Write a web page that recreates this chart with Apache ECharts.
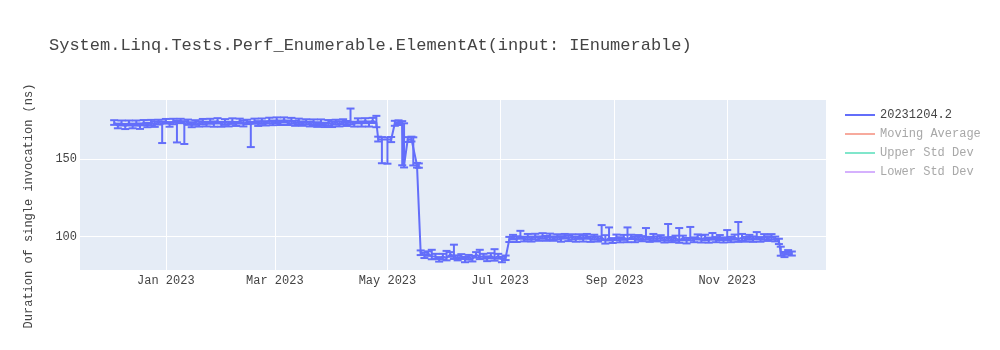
<!DOCTYPE html>
<html>
<head>
<meta charset="utf-8">
<script src="https://cdn.jsdelivr.net/npm/echarts@6/dist/echarts.min.js"></script>
<style>
html,body{margin:0;padding:0;background:#fff;}
#chart{width:1000px;height:350px;}
</style>
</head>
<body>
<div id="chart"></div>
<script>
const chartTitle = 'System.Linq.Tests.Perf_Enumerable.ElementAt(input: IEnumerable)';
const yTitle = 'Duration of single invocation (ns)';
const seriesNames = ['20231204.2', 'Moving Average', 'Upper Std Dev', 'Lower Std Dev'];

const dates = [
  '2022-12-04','2022-12-06','2022-12-08','2022-12-10','2022-12-12','2022-12-14','2022-12-16','2022-12-18','2022-12-20','2022-12-22','2022-12-24','2022-12-26','2022-12-28','2022-12-30',
  '2023-01-01','2023-01-03','2023-01-05','2023-01-07','2023-01-09','2023-01-11','2023-01-13','2023-01-15','2023-01-17','2023-01-19','2023-01-21','2023-01-23','2023-01-25','2023-01-27','2023-01-29','2023-01-31',
  '2023-02-02','2023-02-04','2023-02-06','2023-02-08','2023-02-10','2023-02-12','2023-02-14','2023-02-16','2023-02-18','2023-02-20','2023-02-22','2023-02-24','2023-02-26','2023-02-28',
  '2023-03-02','2023-03-04','2023-03-06','2023-03-08','2023-03-10','2023-03-12','2023-03-14','2023-03-16','2023-03-18','2023-03-20','2023-03-22','2023-03-24','2023-03-26','2023-03-28','2023-03-30',
  '2023-04-01','2023-04-03','2023-04-05','2023-04-07','2023-04-09','2023-04-11','2023-04-13','2023-04-15','2023-04-17','2023-04-19','2023-04-21','2023-04-23','2023-04-25',
  '2023-04-26','2023-04-28','2023-05-01','2023-05-03','2023-05-05','2023-05-07','2023-05-09','2023-05-10','2023-05-12','2023-05-14','2023-05-15','2023-05-17','2023-05-18',
  '2023-05-19','2023-05-21','2023-05-23','2023-05-25','2023-05-27','2023-05-29','2023-05-31',
  '2023-06-02','2023-06-04','2023-06-06','2023-06-08','2023-06-10','2023-06-12','2023-06-14','2023-06-16','2023-06-18','2023-06-20','2023-06-22','2023-06-24','2023-06-26','2023-06-28','2023-06-30',
  '2023-07-02','2023-07-04',
  '2023-07-06','2023-07-08','2023-07-10','2023-07-12','2023-07-14','2023-07-16','2023-07-18','2023-07-20','2023-07-22','2023-07-24','2023-07-26','2023-07-28','2023-07-30',
  '2023-08-01','2023-08-03','2023-08-05','2023-08-07','2023-08-09','2023-08-11','2023-08-13','2023-08-15','2023-08-17','2023-08-19','2023-08-21','2023-08-23','2023-08-25','2023-08-27','2023-08-29','2023-08-31',
  '2023-09-02','2023-09-04','2023-09-06','2023-09-08','2023-09-10','2023-09-12','2023-09-14','2023-09-16','2023-09-18','2023-09-20','2023-09-22','2023-09-24','2023-09-26','2023-09-28','2023-09-30',
  '2023-10-02','2023-10-04','2023-10-06','2023-10-08','2023-10-10','2023-10-12','2023-10-14','2023-10-16','2023-10-18','2023-10-20','2023-10-22','2023-10-24','2023-10-26','2023-10-28','2023-10-30',
  '2023-11-01','2023-11-03','2023-11-05','2023-11-07','2023-11-09','2023-11-11','2023-11-13','2023-11-15','2023-11-17','2023-11-19','2023-11-21','2023-11-23','2023-11-25','2023-11-27','2023-11-29',
  '2023-11-30','2023-12-02','2023-12-04','2023-12-06'
];

const values = [
  173.4,171.5,172.9,171.2,173.1,171.6,172.8,171.4,173.3,172.0,173.6,172.1,173.9,172.4,
  174.3,172.6,174.0,172.9,174.5,172.5,173.9,172.0,173.7,172.3,174.2,172.6,174.1,172.7,174.4,172.5,
  174.0,172.5,174.3,172.6,174.4,172.8,173.9,172.3,174.2,172.9,174.5,173.0,174.7,173.3,
  175.0,173.4,175.2,173.3,174.6,173.0,174.3,172.8,174.0,172.5,173.7,172.2,173.6,172.0,173.5,
  172.2,173.9,172.4,174.1,172.8,174.2,172.5,174.4,172.8,174.6,172.7,174.8,173.5,
  162.8,162.6,162.5,162.4,173.0,173.4,173.0,146.0,162.6,162.8,162.6,146.0,145.8,
  89.6,88.0,89.2,87.4,87.3,85.4,87.2,
  86.5,88.6,87.6,86.2,87.4,85.4,86.8,85.8,88.5,87.2,87.3,86.0,87.6,86.4,87.5,
  85.4,86.5,
  98.3,99.8,98.5,100.3,98.4,99.9,98.6,100.2,98.9,100.5,99.0,100.1,98.8,
  100.0,98.6,100.3,98.9,100.2,98.4,100.1,98.8,100.3,98.5,99.9,98.4,99.5,97.6,99.2,97.5,
  99.6,98.2,99.5,98.2,99.9,98.4,99.6,98.6,100.0,98.3,99.6,98.5,99.5,97.9,99.3,
  98.0,99.2,97.7,99.1,97.6,99.3,98.2,99.7,98.1,99.4,98.0,99.6,98.2,99.4,98.1,
  99.5,98.3,99.6,98.4,99.4,98.2,99.7,98.5,99.8,98.4,99.9,98.8,100.0,98.6,97.3,
  89.4,88.6,89.9,89.2
];

const errUp = [
  1.6,1.3,1.9,1.4,1.7,1.2,2.0,1.5,1.8,1.3,1.6,2.0,1.4,1.8,
  1.5,1.2,1.9,1.6,1.4,1.9,1.5,1.7,1.3,2.0,1.6,1.4,1.8,1.5,1.9,1.4,
  1.7,1.5,1.9,1.3,1.6,2.0,1.4,1.6,1.8,1.5,1.6,1.4,1.9,1.5,
  1.8,1.4,1.6,1.5,1.9,1.6,1.7,1.4,1.6,1.5,1.8,1.5,1.9,1.4,1.6,
  1.8,1.4,1.9,1.5,1.7,8.3,1.5,1.8,1.4,1.7,1.5,1.7,4.3,
  1.6,1.5,1.4,1.8,1.6,1.5,1.4,27.0,1.5,1.6,1.4,1.5,1.4,
  1.6,1.8,1.4,4.2,1.7,1.5,1.8,
  4.4,1.5,7.3,1.8,1.4,1.6,1.5,1.9,1.6,4.4,1.7,1.4,1.8,5.6,1.5,
  1.7,1.4,
  1.6,1.4,1.8,3.5,1.6,1.9,1.5,1.7,1.3,1.8,1.5,1.9,1.4,
  1.6,1.8,1.5,1.8,1.4,1.7,1.5,1.9,1.5,1.7,1.4,1.8,8.0,3.4,6.8,1.6,
  1.8,1.5,1.7,7.8,1.4,1.7,1.5,1.8,5.6,1.6,2.2,1.7,1.5,1.8,8.9,
  1.8,1.5,7.9,1.6,1.7,7.0,1.4,1.8,2.9,1.9,1.5,2.8,1.6,1.7,1.5,
  4.8,1.6,1.8,11.1,2.4,1.7,1.5,1.7,3.2,1.4,1.8,1.5,1.7,1.5,1.4,
  4.2,1.6,1.5,1.3
];

const errDown = [
  1.4,1.7,1.3,1.9,1.5,1.8,1.3,2.0,1.6,1.5,1.8,1.4,1.7,12.1,
  1.5,1.8,1.6,12.2,1.4,12.8,1.9,1.5,1.7,1.4,1.8,1.6,1.4,1.9,1.5,1.7,
  2.0,1.5,1.7,1.3,1.6,1.8,1.4,14.6,1.5,1.6,1.9,1.4,1.7,1.5,
  1.8,1.5,1.7,1.4,1.9,1.6,1.8,1.4,1.7,1.5,1.8,1.5,1.7,1.4,1.9,
  1.6,1.8,1.4,1.7,1.5,1.8,1.6,1.4,1.9,1.5,1.8,1.6,3.0,
  1.5,15.3,15.5,1.5,1.6,1.5,27.0,1.4,1.6,1.5,16.7,1.5,1.4,
  1.4,1.7,1.5,1.9,1.6,1.4,1.8,
  1.7,1.5,1.9,1.4,1.7,1.8,1.5,1.7,1.9,1.6,1.4,1.7,1.5,1.8,1.6,
  1.8,1.5,
  1.7,1.5,1.9,1.6,1.4,1.8,1.7,1.9,1.5,1.8,1.6,1.9,1.4,
  1.7,1.8,1.5,1.7,1.9,1.6,1.5,1.9,1.6,1.8,1.8,1.5,1.7,2.0,1.6,1.5,
  1.8,1.8,1.5,1.7,1.4,1.9,1.6,1.5,1.9,1.6,1.8,1.5,1.8,1.6,1.8,
  1.5,1.8,1.6,1.4,1.9,1.6,1.7,1.5,1.8,1.6,1.8,1.5,1.7,1.5,1.8,
  1.6,1.8,1.5,1.7,1.9,1.4,1.6,1.8,1.5,1.6,1.8,1.5,1.8,1.6,2.0,
  1.6,1.7,1.5,1.3
];

const xTickDates = ['2023-01-01','2023-03-01','2023-05-01','2023-07-01','2023-09-01','2023-11-01'];
const xTickLabels = ['Jan 2023','Mar 2023','May 2023','Jul 2023','Sep 2023','Nov 2023'];
const yTickValues = [100, 150];
const xRange = ['2022-11-15T12:00:00', '2023-12-24T12:00:00'];
const yRange = [78.6, 188];

const FONT = "'Courier New', 'Liberation Mono', monospace";
const BLUE = '#636efa';
const toTs = s => echarts.time.parse(s).getTime();

const lineData = dates.map((d, i) => [toTs(d), values[i]]);
const errData = dates.map((d, i) => [toTs(d), values[i], values[i] - errDown[i], values[i] + errUp[i]]);
const tickTs = xTickDates.map(toTs);

const chart = echarts.init(document.getElementById('chart'), null, {renderer: 'canvas'});
chart.setOption({
  animation: false,
  backgroundColor: '#fff',
  textStyle: {fontFamily: FONT},
  title: {
    text: chartTitle,
    left: 49, top: 37, padding: 0,
    textStyle: {fontFamily: FONT, fontSize: 17, fontWeight: 'normal', color: '#444'}
  },
  legend: {
    orient: 'vertical',
    left: 845, top: 109,
    itemWidth: 30, itemHeight: 14, itemGap: 7,
    padding: 0,
    icon: 'path://M0,0L30,0L30,2L0,2Z',
    textStyle: {fontFamily: FONT, fontSize: 12, color: '#444'},
    data: [
      {name: seriesNames[0]},
      {name: seriesNames[1], textStyle: {color: '#a8a8a8'}},
      {name: seriesNames[2], textStyle: {color: '#a8a8a8'}},
      {name: seriesNames[3], textStyle: {color: '#a8a8a8'}}
    ]
  },
  grid: {
    left: 80, right: 174, top: 100, bottom: 80,
    show: true, backgroundColor: '#E5ECF6', borderWidth: 0
  },
  xAxis: {
    type: 'value',
    min: toTs(xRange[0]), max: toTs(xRange[1]),
    axisLine: {show: false},
    axisTick: {show: false, customValues: tickTs},
    splitLine: {show: true, lineStyle: {color: '#fff', width: 1}},
    axisLabel: {
      customValues: tickTs,
      formatter: v => { const k = tickTs.indexOf(v); return k >= 0 ? xTickLabels[k] : ''; },
      fontFamily: FONT, fontSize: 12, color: '#444', margin: 5
    }
  },
  yAxis: {
    type: 'value',
    min: yRange[0], max: yRange[1],
    name: yTitle,
    nameLocation: 'middle',
    nameGap: 45,
    nameTextStyle: {fontFamily: FONT, fontSize: 12, color: '#444', padding: [0, 42, 0, 0]},
    axisLine: {show: false},
    axisTick: {show: false, customValues: yTickValues},
    splitLine: {show: true, lineStyle: {color: '#fff', width: 1}},
    axisLabel: {customValues: yTickValues, fontFamily: FONT, fontSize: 12, color: '#444', margin: 3}
  },
  series: [
    {
      name: seriesNames[0],
      type: 'line',
      data: lineData,
      symbol: 'none',
      showSymbol: false,
      lineStyle: {color: BLUE, width: 2},
      itemStyle: {color: BLUE},
      z: 3
    },
    {
      name: seriesNames[0],
      type: 'custom',
      data: errData,
      encode: {x: 0, y: [1, 2, 3]},
      z: 2,
      renderItem: (params, api) => {
        const x = api.value(0);
        const lo = api.coord([x, api.value(2)]);
        const hi = api.coord([x, api.value(3)]);
        const hw = 4;
        const st = {stroke: BLUE, lineWidth: 2};
        return {
          type: 'group',
          children: [
            {type: 'line', shape: {x1: lo[0], y1: lo[1], x2: hi[0], y2: hi[1]}, style: st},
            {type: 'line', shape: {x1: lo[0] - hw, y1: lo[1], x2: lo[0] + hw, y2: lo[1]}, style: st},
            {type: 'line', shape: {x1: hi[0] - hw, y1: hi[1], x2: hi[0] + hw, y2: hi[1]}, style: st}
          ]
        };
      }
    },
    {name: seriesNames[1], type: 'line', data: [], symbol: 'none', lineStyle: {color: '#F7AA9D', width: 2}, itemStyle: {color: '#F7AA9D'}},
    {name: seriesNames[2], type: 'line', data: [], symbol: 'none', lineStyle: {color: '#80E6CB', width: 2}, itemStyle: {color: '#80E6CB'}},
    {name: seriesNames[3], type: 'line', data: [], symbol: 'none', lineStyle: {color: '#D5B1FD', width: 2}, itemStyle: {color: '#D5B1FD'}}
  ]
});
</script>
</body>
</html>
